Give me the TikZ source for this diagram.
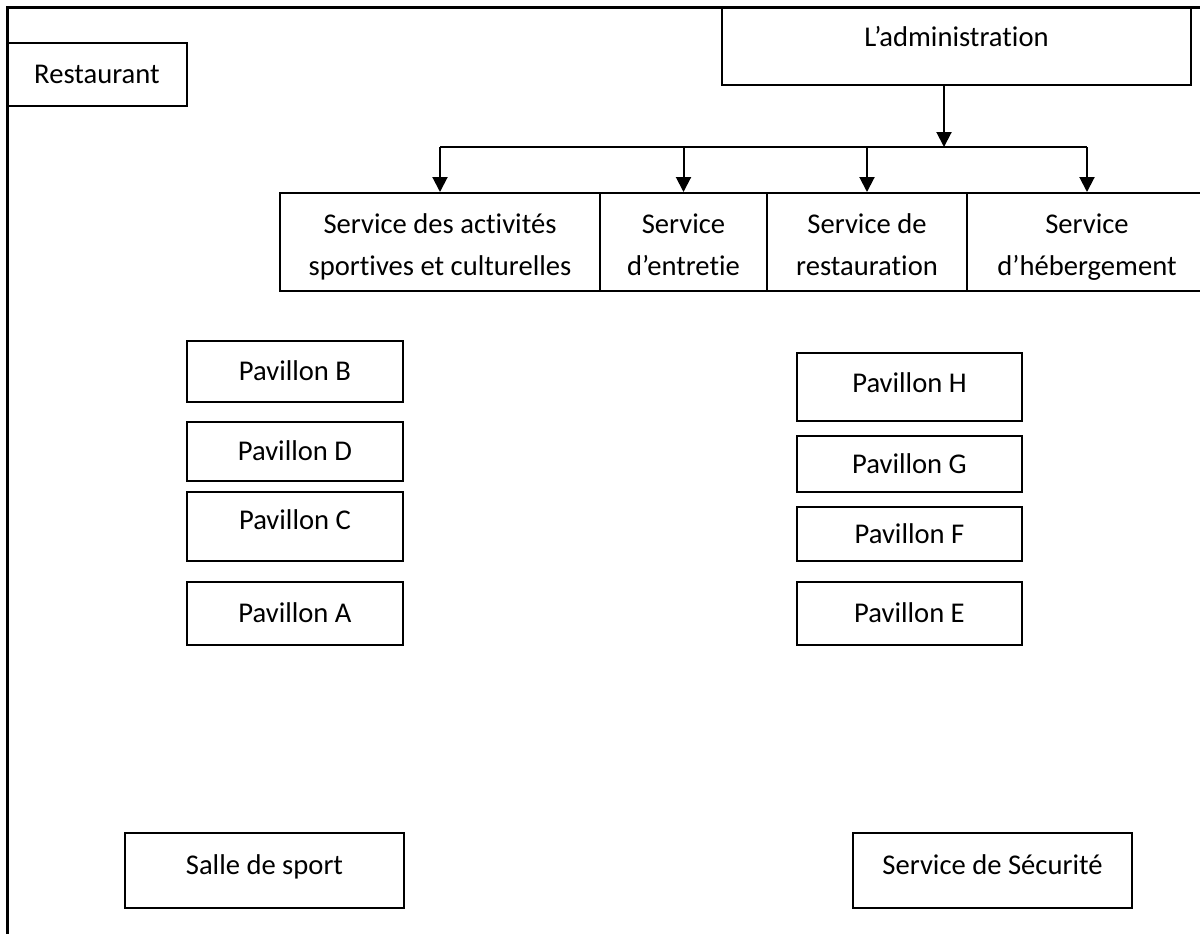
\documentclass[tikz,border=0pt]{standalone}
\usepackage{fontspec}
\setmainfont{Carlito}[Ligatures={NoCommon,NoRare,NoContextual}]
\usetikzlibrary{calc}
\usetikzlibrary{arrows.meta}
\newcommand{\tikzpavleft}{295}
\newcommand{\tikzpavright}{909.5}
\newcommand{\tikzservrow}{242}
\newcommand{\servtop}{\rule{0pt}{37.5pt}}
\newcommand{\servbottom}{\vrule depth 4pt width 0pt height 0pt}
\tikzstyle{planbox}=[draw=black,line width=1pt,inner sep=0pt,text height=9pt,text depth=0pt,font=\fontsize{14.3}{21}\selectfont]
\tikzstyle{servbox}=[draw=black,line width=1pt,inner sep=0pt,align=center,minimum height=49pt,font=\fontsize{14.3}{21}\selectfont,
  execute at begin node={\servtop},execute at end node={\servbottom}]
\tikzstyle{planarrow}=[draw=black,line width=1pt,-{Triangle[length=7.5pt,width=7.5pt]}]
\tikzstyle{planframe}=[draw=black,line width=1.5pt]

\begin{document}
\begin{tikzpicture}[x=0.5pt,y=-0.5pt]
  \useasboundingbox (0,0) rectangle (1200,933);
  % outer frame
  \path[planframe] (7,945) -- (7,7) -- (1215,7);
  % top boxes
  \node[planbox] (restaurant) [minimum width=90pt, minimum height=31.5pt] at (97,74.5) {Restaurant};
  \node[planbox] (admin) [minimum width=234.5pt, minimum height=39pt, text depth=9pt] at (956.5,46) {L’administration};
  % services
  \node[servbox] (sas) [minimum width=160pt] at (440,\tikzservrow) {Service des activités\\sportives et culturelles};
  \node[servbox] (ent) [minimum width=83.5pt] at (683.5,\tikzservrow) {Service\\d’entretie};
  \node[servbox] (res) [minimum width=100pt] at (867,\tikzservrow) {Service de\\restauration};
  \node[servbox] (heb) [minimum width=120pt] at (1087,\tikzservrow) {Service\\d’hébergement};
  % pavillons
  \node[planbox] (pavB) [minimum width=108pt, minimum height=30.5pt] at (\tikzpavleft,371.5) {Pavillon B};
  \node[planbox] (pavD) [minimum width=108pt, minimum height=29.5pt] at (\tikzpavleft,451.5) {Pavillon D};
  \node[planbox] (pavC) [minimum width=108pt, minimum height=34.5pt, text depth=6pt] at (\tikzpavleft,526.5) {Pavillon C};
  \node[planbox] (pavA) [minimum width=108pt, minimum height=31.5pt] at (\tikzpavleft,613.5) {Pavillon A};
  \node[planbox] (pavH) [minimum width=112.5pt, minimum height=34pt, text depth=4pt] at (\tikzpavright,387) {Pavillon H};
  \node[planbox] (pavG) [minimum width=112.5pt, minimum height=28pt] at (\tikzpavright,464) {Pavillon G};
  \node[planbox] (pavF) [minimum width=112.5pt, minimum height=27pt] at (\tikzpavright,534) {Pavillon F};
  \node[planbox] (pavE) [minimum width=112.5pt, minimum height=31.5pt] at (\tikzpavright,613.5) {Pavillon E};
  % bottom boxes
  \node[planbox] (salle) [minimum width=139.5pt, minimum height=37.5pt, text depth=5.5pt] at (264.5,870.5) {Salle de sport};
  \node[planbox] (secu) [minimum width=139.5pt, minimum height=37.5pt, text depth=5.5pt] at (992.5,870.5) {Service de Sécurité};
  % arrows
  \coordinate (bus) at (944,147);
  \path[draw=black,line width=1pt] (sas.north |- bus) -- (heb.north |- bus);
  \path[planarrow] (admin.south -| bus) -- (bus);
  \foreach \s in {sas,ent,res,heb}
  {
    \path[planarrow] (\s.north |- bus) -- (\s.north);
  }
\end{tikzpicture}
\end{document}
